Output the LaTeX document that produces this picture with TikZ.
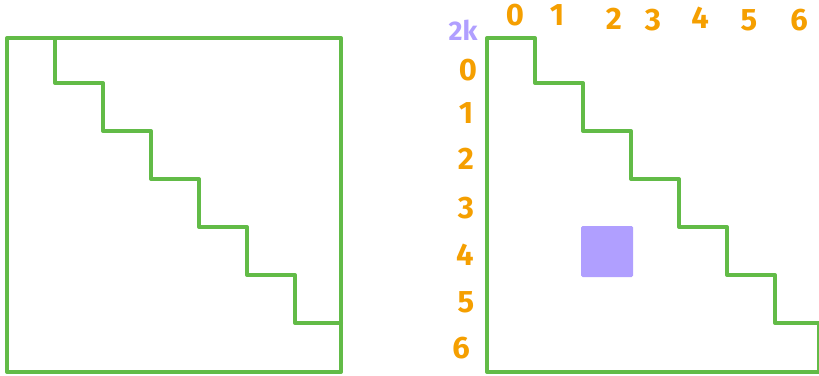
\documentclass[tikz,border=0pt]{standalone}
\usepackage{fontspec}
\setmainfont{Fira Sans}
\definecolor{grn}{HTML}{62BB47}
\definecolor{org}{HTML}{F59F00}
\definecolor{pur}{HTML}{B09FFF}
\begin{document}
\begin{tikzpicture}[x=1pt,y=-1pt,
  edge/.style={draw=grn,line width=4pt,line join=round,line cap=round},
  lbl/.style={text=org,font=\fontsize{31}{31}\selectfont\bfseries,inner sep=0pt}]
\useasboundingbox (0,0) rectangle (819,375);
% left square
\draw[edge] (7,38) rectangle (341,372);
\draw[edge] (55,38) -- (55,83) -- (103,83) -- (103,131) -- (151,131) -- (151,179)
  -- (199,179) -- (199,227) -- (247,227) -- (247,275) -- (295,275) -- (295,323) -- (341,323);
% right staircase triangle
\draw[edge] (487,38) -- (535,38) -- (535,83) -- (583,83) -- (583,131) -- (631,131) -- (631,179)
  -- (679,179) -- (679,227) -- (727,227) -- (727,275) -- (775,275) -- (775,323) -- (819,323)
  -- (819,372) -- (487,372) -- cycle;
% purple cell
\fill[pur,rounded corners=1.5pt] (581,226) rectangle (633,277);
% labels
\node[lbl] (c0) at (515,15) {0};
\node[lbl] (c1) at (557,15) {1};
\node[lbl] (c2) at (614,19) {2};
\node[lbl] (c3) at (653,20) {3};
\node[lbl] (c4) at (700,18) {4};
\node[lbl] (c5) at (749,20) {5};
\node[lbl] (c6) at (799,20) {6};
\node[lbl] (r0) at (468,70) {0};
\node[lbl] (r1) at (466,113) {1};
\node[lbl] (r2) at (466,159) {2};
\node[lbl] (r3) at (466,208) {3};
\node[lbl] (r4) at (465,255) {4};
\node[lbl] (r5) at (466,302) {5};
\node[lbl] (r6) at (461,348) {6};
\node[lbl,text=pur,font=\fontsize{27}{27}\selectfont\bfseries] (k) at (463,30) {2k};
\end{tikzpicture}
\end{document}
